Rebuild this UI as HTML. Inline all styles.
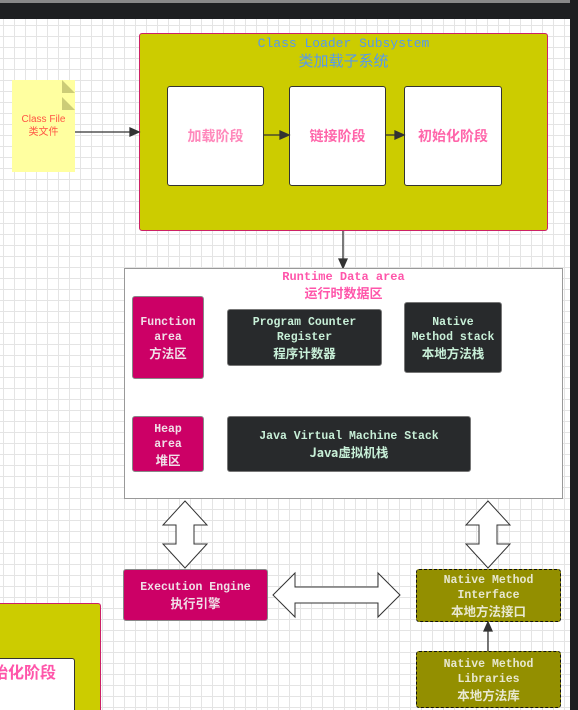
<!DOCTYPE html>
<html><head><meta charset="utf-8"><style>
*{margin:0;padding:0;box-sizing:border-box}
html{width:578px;height:710px;overflow:hidden}
body{width:578px;height:710px;overflow:hidden;position:relative;font-family:"Liberation Mono","Noto Sans CJK SC",monospace;
background-color:#fff;background-image:linear-gradient(#e4e4e4 1px,transparent 1px),linear-gradient(90deg,#e4e4e4 1px,transparent 1px);background-size:11px 11px;background-position:3px 3px}
.a{position:absolute}
.c{display:flex;flex-direction:column;align-items:center;justify-content:center;text-align:center;font-weight:bold}
.dk{background:#282a2c;border:1.5px solid #777;border-radius:3px;color:#c8f0d8;font-size:11.5px;line-height:15px}
.mg{background:#cc0066;border:1.5px solid #888;border-radius:3px;color:#f0e0e8;font-size:11.5px;line-height:15px}
.ol{background:#938f00;border:1.5px dashed #111;border-radius:3px;color:#e8e8d0;font-size:11.5px;line-height:15px}
.wh{background:#fff;border:1.5px solid #333;border-radius:3px;color:#ff66aa;font-size:14px;font-family:"Noto Sans CJK SC",sans-serif}
.cj{font-family:"Noto Sans CJK SC",sans-serif;font-size:12.5px}
</style></head><body>
<div class="a" style="left:0;top:0;width:578px;height:19px;background:#1e1f21;border-top:3px solid #888"></div>
<div class="a" style="left:570px;top:0;width:8px;height:710px;background:#1e1f21"></div>

<div class="a" style="left:139px;top:33px;width:409px;height:198px;background:#cccc00;border:1.5px solid #cc2266;border-radius:3px"></div>
<div class="a c" style="left:139px;top:35px;width:409px;color:#5599ee;font-size:13px;line-height:17px;font-weight:normal">Class Loader Subsystem<span class="cj" style="font-size:15px">类加载子系统</span></div>
<div class="a c wh" style="left:167px;top:86px;width:97px;height:100px;color:#ff88bb">加载阶段</div>
<div class="a c wh" style="left:289px;top:86px;width:97px;height:100px">链接阶段</div>
<div class="a c wh" style="left:404px;top:86px;width:98px;height:100px">初始化阶段</div>

<div class="a c" style="left:12px;top:80px;width:63px;height:92px;background:#ffffa0;color:#ff5544;font-size:10px;font-weight:normal;font-family:'Liberation Sans','Noto Sans CJK SC',sans-serif;line-height:13px">Class File<span>类文件</span></div>
<svg class="a" style="left:0;top:0" width="578" height="710">
<polygon points="62,80 75,93 62,93" fill="#cccc77"/><polygon points="62,97 75,110 62,110" fill="#cccc77"/>
<g stroke="#333" stroke-width="1.3" fill="#333">
<line x1="75" y1="132" x2="133" y2="132"/><polygon points="139,132 130,128 130,136"/>
<line x1="264" y1="135" x2="282" y2="135"/><polygon points="289,135 280,131 280,139"/>
<line x1="386" y1="135" x2="397" y2="135"/><polygon points="404,135 395,131 395,139"/>
<line x1="343" y1="231" x2="343" y2="262"/><polygon points="343,268 339,259 347,259"/>
<line x1="488" y1="651" x2="488" y2="630"/><polygon points="488,622 484,631 492,631"/>
</g>
<g fill="#fff" stroke="#333" stroke-width="1">
<polygon points="185,501 207,525 194,525 194,544 207,544 185,568 163,544 176,544 176,525 163,525"/>
<polygon points="488,501 510,525 497,525 497,544 510,544 488,568 466,544 479,544 479,525 466,525"/>
<polygon points="273,595 295,573 295,587 378,587 378,573 400,595 378,617 378,603 295,603 295,617"/>
</g>
</svg>

<div class="a" style="left:124px;top:268px;width:439px;height:231px;background:#fff;border:1.5px solid #999"></div>
<div class="a c" style="left:124px;top:270px;width:439px;color:#ff55aa;font-size:12px;line-height:15px">Runtime Data area<span class="cj" style="font-size:13px">运行时数据区</span></div>
<div class="a c mg" style="left:132px;top:296px;width:72px;height:83px">Function<br>area<span class="cj">方法区</span></div>
<div class="a c dk" style="left:227px;top:309px;width:155px;height:57px">Program Counter<br>Register<span class="cj">程序计数器</span></div>
<div class="a c dk" style="left:404px;top:302px;width:98px;height:71px">Native<br>Method stack<span class="cj">本地方法栈</span></div>
<div class="a c mg" style="left:132px;top:416px;width:72px;height:56px">Heap<br>area<span class="cj">堆区</span></div>
<div class="a c dk" style="left:227px;top:416px;width:244px;height:56px">Java Virtual Machine Stack<span class="cj">Java虚拟机栈</span></div>

<div class="a c mg" style="left:123px;top:569px;width:145px;height:52px">Execution Engine<span class="cj">执行引擎</span></div>
<div class="a c ol" style="left:416px;top:569px;width:145px;height:53px">Native Method<br>Interface<span class="cj">本地方法接口</span></div>
<div class="a c ol" style="left:416px;top:651px;width:145px;height:57px">Native Method<br>Libraries<span class="cj">本地方法库</span></div>

<div class="a" style="left:-10px;top:603px;width:111px;height:107px;background:#cccc00;border:1.5px solid #cc2266;border-bottom:none;border-radius:3px 3px 0 0"></div>
<div class="a wh" style="left:-10px;top:658px;width:85px;height:52px;border-bottom:none;border-radius:3px 3px 0 0"></div>
<div class="a" style="left:-8px;top:660px;color:#ff55aa;font-size:16px;font-weight:bold;font-family:'Noto Sans CJK SC',sans-serif;line-height:22px;white-space:nowrap">始化阶段</div>
</body></html>
